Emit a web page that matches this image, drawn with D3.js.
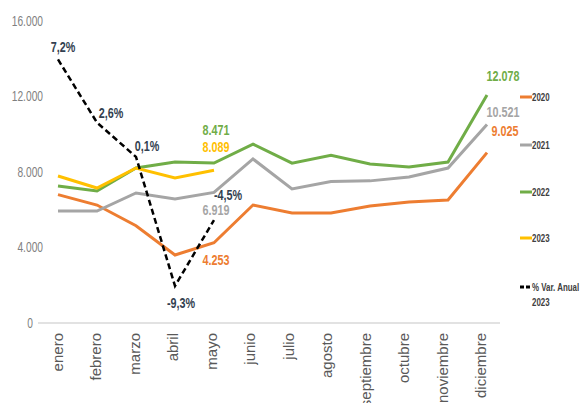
<!DOCTYPE html>
<html>
<head>
<meta charset="utf-8">
<script src="https://cdn.jsdelivr.net/npm/d3@7"></script>
<style>
  body { margin: 0; background: #fff; }
  svg { display: block; }
  .narrow { font-family: 'Liberation Sans', Arial, sans-serif; }
</style>
</head>
<body>
<svg id="chart" width="581" height="403"></svg>
<script>
const months = ['enero', 'febrero', 'marzo', 'abril', 'mayo', 'junio', 'julio',
  'agosto', 'septiembre', 'octubre', 'noviembre', 'diciembre'];
const years = ['2020', '2021', '2022', '2023'];
const v2020 = [6800, 6250, 5150, 3600, 4253, 6250, 5830, 5830, 6200, 6410, 6520, 9025];
const v2021 = [5930, 5930, 6890, 6570, 6919, 8690, 7100, 7500, 7530, 7740, 8210, 10521];
const v2022 = [7260, 6990, 8210, 8530, 8471, 9480, 8470, 8880, 8420, 8270, 8530, 12078];
const v2023 = [7790, 7150, 8210, 7680, 8089];
const varAnual = [7.2, 2.6, 0.1, -9.3, -4.5];
const yTicks = [0, 4000, 8000, 12000, 16000];

const colors = { '2020': '#ED7D31', '2021': '#A5A5A5', '2022': '#70AD47', '2023': '#FFC000' };
const series = [
  { name: '2020', values: v2020 },
  { name: '2021', values: v2021 },
  { name: '2022', values: v2022 },
  { name: '2023', values: v2023 }
];

const fmt = d3.format(',.0f');
const num = v => fmt(v).replace(/,/g, '.');
const pct = v => v.toFixed(1).replace('.', ',') + '%';
// horizontal squeeze, stands in for Arial Narrow
const SQ = 0.77;
const SQ_LEG = 0.72;

const svg = d3.select('#chart');

const x = d3.scalePoint().domain(months).range([58, 487]);
const xBand = d3.scaleBand().domain(months).range([38, 500]);
const y = d3.scaleLinear().domain([0, 16000]).range([323, 21]);
const y2 = d3.scaleLinear().domain([-12, 10]).range([323, 21]);

// y axis (labels only)
const yAxis = svg.append('g')
  .attr('transform', 'translate(43,0)')
  .call(d3.axisLeft(y).tickValues(yTicks).tickSize(0).tickPadding(0).tickFormat(num));
yAxis.select('.domain').remove();
yAxis.selectAll('text')
  .attr('class', 'narrow')
  .attr('x', 0)
  .attr('transform', d => `translate(${d === 0 ? -10 : 0},0) scale(0.73,1)`)
  .style('font-size', '14px')
  .attr('fill', '#7F7F7F');

// baseline
svg.append('line')
  .attr('x1', 38).attr('x2', 500)
  .attr('y1', y(0)).attr('y2', y(0))
  .attr('stroke', '#D9D9D9').attr('stroke-width', 1.5);

// x axis labels
const xAxis = svg.append('g')
  .attr('transform', `translate(0,${y(0)})`)
  .call(d3.axisBottom(xBand).tickSize(0).tickPadding(0));
xAxis.select('.domain').remove();
xAxis.selectAll('text')
  .attr('transform', 'rotate(-90)')
  .attr('x', -10).attr('y', 0).attr('dy', '0.35em')
  .attr('text-anchor', 'end')
  .style('font-family', 'Liberation Sans, Arial, sans-serif')
  .style('font-size', '15px')
  .attr('fill', '#595959');

// series lines
const line = d3.line()
  .x((d, i) => x(months[i]))
  .y(d => y(d));

svg.append('g').selectAll('path')
  .data(series)
  .join('path')
  .attr('d', d => line(d.values))
  .attr('fill', 'none')
  .attr('stroke', d => colors[d.name])
  .attr('stroke-width', 3)
  .attr('stroke-linejoin', 'miter');

// % variation line (secondary axis)
const line2 = d3.line()
  .x((d, i) => x(months[i]))
  .y(d => y2(d));
svg.append('path')
  .attr('d', line2(varAnual))
  .attr('fill', 'none')
  .attr('stroke', '#000')
  .attr('stroke-width', 2.5)
  .attr('stroke-dasharray', '6,3.5');

// data labels
const labels = [
  { text: num(v2022[4]), m: 4, v: y(v2022[4]), dx: 2, dy: -28, c: colors['2022'] },
  { text: num(v2023[4]), m: 4, v: y(v2023[4]), dx: 2, dy: -18, c: colors['2023'] },
  { text: num(v2021[4]), m: 4, v: y(v2021[4]), dx: 2, dy: 23, c: colors['2021'] },
  { text: num(v2020[4]), m: 4, v: y(v2020[4]), dx: 2, dy: 22, c: colors['2020'] },
  { text: num(v2022[11]), m: 11, v: y(v2022[11]), dx: 16, dy: -14, c: colors['2022'] },
  { text: num(v2021[11]), m: 11, v: y(v2021[11]), dx: 16, dy: -7, c: colors['2021'] },
  { text: num(v2020[11]), m: 11, v: y(v2020[11]), dx: 18, dy: -17, c: colors['2020'] }
];
varAnual.forEach((v, i) => {
  const off = [[5, -7], [14, -5], [11, -6], [6, 22], [14, -20]][i];
  labels.push({ text: pct(v), m: i, v: y2(v), dx: off[0], dy: off[1], c: '#333F50' });
});

svg.append('g').selectAll('text')
  .data(labels)
  .join('text')
  .attr('class', 'narrow')
  .attr('transform', d => `translate(${x(months[d.m]) + d.dx},${d.v + d.dy}) scale(${SQ},1)`)
  .attr('text-anchor', 'middle')
  .style('font-size', '14px')
  .style('font-weight', 'bold')
  .attr('fill', d => d.c)
  .text(d => d.text);

// legend
const legendItems = [
  { label: ['2020'], y: 97, color: colors['2020'], dash: null },
  { label: ['2021'], y: 145, color: colors['2021'], dash: null },
  { label: ['2022'], y: 192, color: colors['2022'], dash: null },
  { label: ['2023'], y: 238, color: colors['2023'], dash: null },
  { label: ['% Var. Anual', '2023'], y: 287, color: '#000', dash: '4,2' }
];
const legend = svg.append('g');
const items = legend.selectAll('g').data(legendItems).join('g')
  .attr('transform', d => `translate(520,${d.y})`);
items.append('line')
  .attr('x1', 0).attr('x2', 12)
  .attr('stroke', d => d.color)
  .attr('stroke-width', 3)
  .attr('stroke-dasharray', d => d.dash);
items.append('text')
  .attr('class', 'narrow')
  .attr('transform', `translate(12,4) scale(${SQ_LEG},1)`)
  .style('font-size', '11px')
  .style('font-weight', 'bold')
  .attr('fill', '#404040')
  .selectAll('tspan')
  .data(d => d.label)
  .join('tspan')
  .attr('x', 0)
  .attr('dy', (d, i) => i === 0 ? 0 : 15)
  .text(d => d);
</script>
</body>
</html>
